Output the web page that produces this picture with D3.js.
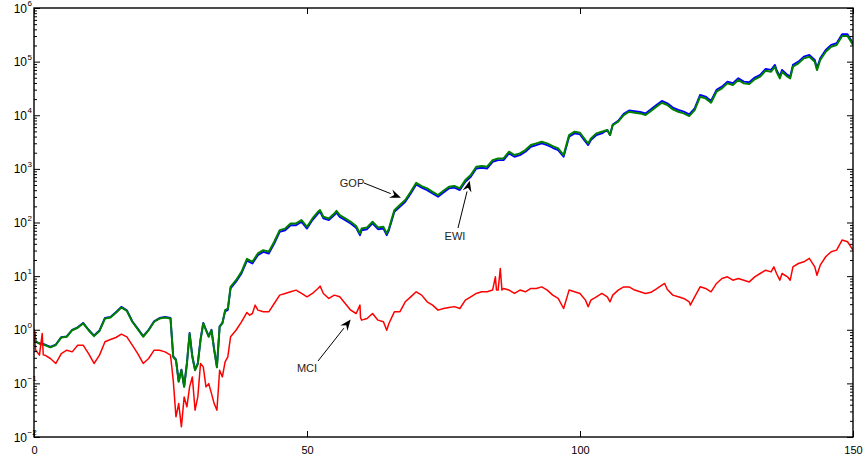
<!DOCTYPE html>
<html>
<head>
<meta charset="utf-8">
<script src="https://cdn.jsdelivr.net/npm/d3@7"></script>
<style>
  html, body { margin: 0; padding: 0; background: #fff; }
  svg { display: block; font-family: "Liberation Sans", Arial, Helvetica, sans-serif; }
</style>
</head>
<body>
<script>
// Wealth paths on a log scale: growth optimal portfolio, equal-weighted index, market-cap index.
// Each entry is [time, value].
const gopData = [
  [0,1.0],[0.3,0.6],[1,0.56],[2,0.53],[3,0.48],[4,0.53],[5,0.73],[6,0.75],[7,1.0],[8,1.11],[9,1.34],[10,1.0],
  [11,0.78],[12,0.97],[13,1.66],[14,1.73],[15,2.12],[16,2.67],[17,2.31],[18,1.44],[19,1.05],[20,0.76],
  [21,1.0],[22,1.44],[23,1.66],[24,1.73],[25,1.66],[25.5,0.32],[26,0.28],[26.5,0.11],[27,0.18],[27.5,0.088],
  [28,0.235],[28.5,0.87],[29,0.32],[29.5,0.18],[30,0.235],[30.5,0.66],[31,1.34],[31.5,1.0],[32,0.76],[32.5,1.0],
  [33,0.43],[33.5,0.205],[34,1.16],[34.5,1.34],[35,2.2],[35.5,2.35],[36,5.9],[37,7.9],[38,11.2],[39,19.5],
  [40,17.2],[41,24.6],[42,28.4],[43,26.4],[44,40.6],[45,67],[46,71.6],[47,89],[48,89],[49,103],[50,77],
  [51,111],[52,147],[52.4,158],[53,119],[54,111],[55,137],[55.4,153],[56,127],[57,111],[58,96],[59,80],[59.7,58],
  [60,71.6],[61,75],[62,96],[63,75],[64,77],[64.6,58],[65,71.6],[66,158],[67,196],[68,244],[69,348],[70,512],
  [71,445],[72,402],[73,348],[74,302],[75,364],[76,432],[77,446],[78,402],[79,575],[80,712],
  [81,1019],[82,1048],[83,1019],[84,1356],[85,1456],[86,1456],[87,1942],[88,1684],[89,1808],[90,2086],
  [91,2585],[92,2778],[93,2982],[94,2778],[95,2477],[96,2242],[97,1684],[98,3974],[99,4587],[100,4391],
  [101,3203],[101.5,2778],[102,3441],[103,4271],[104,4587],[105,5297],[105.5,4273],[106,6700],[107,7900],[108,10600],
  [109,12300],[110,11900],[111,11500],[112,10800],[113,12900],[114,15600],[115,18500],[116,16700],[117,13900],
  [118,12600],[119,11700],[120,10400],[121,13500],[122,23900],[123,22300],[124,18500],[125,29700],[126,34200],
  [127,42400],[128,39500],[129,49000],[130,42400],[131,41300],[132,50400],[133,56600],[134,73200],[135,70100],
  [135.7,86800],[136,70100],[136.6,52700],[137,70100],[138,56600],[138.5,52700],[139,86800],[140,100200],
  [141,124200],[142,133500],[143,107700],[143.4,75200],[144,115600],[145,165200],[146,205200],[147,220300],
  [148,324000],[149,324000],[150,220300]
];

const ewiData = [
  [0,1.0],[0.3,0.6],[1,0.55],[2,0.52],[3,0.47],[4,0.52],[5,0.72],[6,0.74],[7,0.98],[8,1.09],[9,1.31],[10,0.98],
  [11,0.76],[12,0.95],[13,1.62],[14,1.69],[15,2.07],[16,2.6],[17,2.25],[18,1.41],[19,1.03],[20,0.74],
  [21,0.98],[22,1.41],[23,1.62],[24,1.69],[25,1.62],[25.5,0.31],[26,0.27],[26.5,0.107],[27,0.176],[27.5,0.086],
  [28,0.23],[28.5,0.85],[29,0.31],[29.5,0.176],[30,0.23],[30.5,0.64],[31,1.31],[31.5,0.98],[32,0.74],[32.5,0.98],
  [33,0.42],[33.5,0.2],[34,1.13],[34.5,1.31],[35,2.32],[35.5,2.49],[36,6.3],[37,8.4],[38,12],[39,21],
  [40,18.5],[41,26.5],[42,30.5],[43,28.4],[44,43.7],[45,72],[46,77],[47,96],[48,96],[49,111],[50,83],
  [51,119],[52,158],[52.4,170],[53,128],[54,119],[55,147],[55.4,165],[56,137],[57,119],[58,103],[59,86],[59.7,62.5],
  [60,77],[61,81],[62,103],[63,81],[64,83],[64.6,62.5],[65,77],[66,170],[67,211],[68,262],[69,374],[70,551],
  [71,478],[72,432],[73,374],[74,325],[75,391],[76,464],[77,480],[78,432],[79,618],[80,766],
  [81,1096],[82,1127],[83,1096],[84,1458],[85,1566],[86,1566],[87,2088],[88,1811],[89,1944],[90,2243],
  [91,2780],[92,2987],[93,3207],[94,2987],[95,2663],[96,2411],[97,1811],[98,4273],[99,4932],[100,4722],
  [101,3444],[101.5,2987],[102,3700],[103,4592],[104,4932],[105,5297],[105.5,4273],[106,6566],[107,7575],[108,10090],
  [109,11640],[110,11150],[111,10830],[112,10090],[113,12000],[114,14500],[115,17130],[116,15500],[117,12850],
  [118,11640],[119,10840],[120,9660],[121,12500],[122,22170],[123,20650],[124,17130],[125,27500],[126,31700],
  [127,39300],[128,36600],[129,45400],[130,39300],[131,38200],[132,46700],[133,52400],[134,67800],[135,64900],
  [135.7,80400],[136,64900],[136.6,48800],[137,64900],[138,52400],[138.5,48800],[139,80400],[140,92800],
  [141,115000],[142,123600],[143,99700],[143.4,69600],[144,107000],[145,153000],[146,190000],[147,204000],
  [148,300000],[149,300000],[150,204000]
];

const mciData = [
  [0,1.0],[0.3,0.42],[1,0.336],[1.5,0.85],[1.7,0.34],[2,0.336],[3,0.291],[4,0.235],[5,0.36],[6,0.416],[7,0.387],
  [8,0.516],[9,0.516],[10,0.36],[11,0.235],[12,0.336],[13,0.596],[14,0.658],[15,0.717],[16,0.828],[17,0.738],
  [18,0.516],[19,0.36],[20,0.235],[21,0.291],[22,0.416],[23,0.416],[24,0.387],[25,0.336],[25.5,0.115],
  [26,0.0238],[26.5,0.042],[27,0.0155],[27.5,0.056],[28,0.0365],[28.5,0.086],[29,0.132],[29.5,0.0316],[30,0.056],
  [30.5,0.235],[31,0.203],[31.5,0.086],[32,0.099],[32.5,0.065],[33,0.042],[33.5,0.0316],[34,0.176],[34.5,0.132],
  [35,0.252],[35.5,0.313],[36,0.738],[37,0.98],[38,1.4],[39,2.1],[39.5,1.87],[40,2.01],[40.5,2.88],[41,2.32],
  [42,2.16],[43,2.16],[44,3.09],[45,4.42],[46,4.75],[47,5.1],[48,5.48],[49,4.75],[50,4.11],[51,4.75],[52,5.89],
  [52.4,6.5],[53,4.75],[54,3.83],[55,4.42],[56,4.11],[57,3.09],[58,2.32],[59,2.01],[59.7,2.88],[59.8,1.7],[60,1.51],
  [61,1.62],[62,2.01],[63,1.51],[64,1.41],[64.6,0.98],[65,1.31],[66,2.16],[67,2.16],[68,3.32],[69,4.11],[70,5.1],
  [71,4.42],[72,3.32],[73,2.88],[74,2.32],[75,2.49],[76,2.6],[77,2.7],[78,2.49],[79,3.57],[80,4.11],[81,4.75],
  [82,5.1],[83,5.1],[84,5.49],[84.5,9.7],[84.7,5.5],[85,5.49],[85.4,13.9],[85.7,5.49],[86,5.9],[87,5.49],[88,4.75],
  [89,5.49],[90,5.1],[91,5.9],[92,5.9],[93,6.3],[94,5.49],[95,4.42],[96,3.83],[97,2.49],[98,5.49],[99,5.1],
  [100,4.75],[101,3.57],[101.5,2.68],[102,3.57],[103,4.11],[104,4.75],[105,4.11],[105.5,3.32],[106,4.42],
  [107,5.49],[108,6.3],[109,6.3],[110,5.49],[111,5.1],[112,4.75],[113,5.0],[114,5.8],[115,6.79],[115.5,7.3],
  [116,5.64],[117,4.42],[118,4.11],[119,3.83],[120,3.32],[120.2,2.88],[121,4.11],[122,6.32],[123,5.89],[124,5.1],
  [125,7.3],[126,9.04],[127,9.7],[128,8.4],[129,9.04],[130,8.4],[131,7.8],[132,9.7],[133,11.2],[134,12.9],
  [135,12.0],[135.5,14.9],[136,11.2],[136.6,8.4],[137,11.2],[138,9.7],[138.5,8.4],[139,14.9],[140,17.2],
  [141,18.5],[142,21.4],[143,14.9],[143.4,10.4],[144,16],[145,23],[146,28.5],[147,30.5],[148,47],[149,43.7],[150,30.5]
];

const xTicks = [0, 50, 100, 150];
const yDecades = [-2, -1, 0, 1, 2, 3, 4, 5, 6];

// Annotation labels with arrows: label text, label anchor point, arrow tip [time, value]
const labels = [
  { text: "GOP", tx: 352, ty: 187, from: [364, 183], tip: [67.2, 290] },
  { text: "EWI", tx: 455, ty: 240, from: [458, 228], tip: [79.8, 600] },
  { text: "MCI", tx: 307, ty: 372, from: [318, 361], tip: [58.0, 1.55] }
];

const W = 863, H = 460;
const margin = { left: 34, right: 10, top: 8, bottom: 23 };

const x = d3.scaleLinear().domain([0, 150]).range([margin.left, W - margin.right]);
const y = d3.scaleLog().domain([1e-2, 1e6]).range([H - margin.bottom, margin.top]);

const svg = d3.select("body").append("svg").attr("width", W).attr("height", H);

svg.append("defs").append("clipPath").attr("id", "plotclip")
  .append("rect")
  .attr("x", margin.left).attr("y", margin.top)
  .attr("width", x(150) - x(0)).attr("height", y(1e-2) - y(1e6));

// series
const line = d3.line().x(d => x(d[0])).y(d => y(d[1]));
const plot = svg.append("g").attr("clip-path", "url(#plotclip)");
plot.append("path").datum(gopData).attr("d", line)
  .attr("fill", "none").attr("stroke", "#0000ff").attr("stroke-width", 1.9).attr("stroke-linejoin", "round");
plot.append("path").datum(ewiData).attr("d", line)
  .attr("fill", "none").attr("stroke", "#008000").attr("stroke-width", 2.0).attr("stroke-linejoin", "round");
plot.append("path").datum(mciData).attr("d", line)
  .attr("fill", "none").attr("stroke", "#ff0000").attr("stroke-width", 1.5).attr("stroke-linejoin", "round");

// minor tick positions for the log axis
const minorVals = [];
yDecades.slice(0, -1).forEach(e => {
  for (let k = 2; k <= 9; k++) minorVals.push(k * Math.pow(10, e));
});
const majorVals = yDecades.map(e => Math.pow(10, e));

function styleAxis(g) {
  g.selectAll(".domain").remove();
  g.selectAll("line").attr("stroke", "#000").attr("stroke-width", 1);
  g.selectAll("text").remove();
}

// left & right axes (ticks pointing inward)
svg.append("g").attr("transform", `translate(${x(0)},0)`)
  .call(d3.axisLeft(y).tickValues(majorVals).tickSize(-6)).call(styleAxis);
svg.append("g").attr("transform", `translate(${x(0)},0)`)
  .call(d3.axisLeft(y).tickValues(minorVals).tickSize(-3)).call(styleAxis);
svg.append("g").attr("transform", `translate(${x(150)},0)`)
  .call(d3.axisRight(y).tickValues(majorVals).tickSize(-6)).call(styleAxis);
svg.append("g").attr("transform", `translate(${x(150)},0)`)
  .call(d3.axisRight(y).tickValues(minorVals).tickSize(-3)).call(styleAxis);

// bottom & top axes
const bottom = svg.append("g").attr("transform", `translate(0,${y(1e-2)})`)
  .call(d3.axisBottom(x).tickValues(xTicks).tickSize(-6).tickFormat(d3.format("d")));
bottom.select(".domain").remove();
bottom.selectAll("line").attr("stroke", "#000");
bottom.selectAll("text").attr("y", 9).attr("dy", "0.71em")
  .attr("font-size", 11).attr("fill", "#000")
  .attr("font-family", "'Liberation Sans', Arial, sans-serif");
svg.append("g").attr("transform", `translate(0,${y(1e6)})`)
  .call(d3.axisTop(x).tickValues(xTicks).tickSize(-6)).call(styleAxis);

// box
svg.append("rect")
  .attr("x", x(0)).attr("y", y(1e6))
  .attr("width", x(150) - x(0)).attr("height", y(1e-2) - y(1e6))
  .attr("fill", "none").attr("stroke", "#000").attr("stroke-width", 1.4);

// y tick labels as 10^n
const yl = svg.append("g").attr("fill", "#000");
yDecades.forEach(e => {
  yl.append("text")
    .attr("x", 27).attr("y", y(Math.pow(10, e)) + 4.5)
    .attr("font-size", 12)
    .attr("text-anchor", "end")
    .text("10");
  yl.append("text")
    .attr("x", 27.5).attr("y", y(Math.pow(10, e)) - 2)
    .attr("font-size", 8)
    .attr("text-anchor", "start")
    .text(String(e).replace("-", "\u2212"));
});

// annotations
const ann = svg.append("g");
labels.forEach(l => {
  ann.append("text").attr("x", l.tx).attr("y", l.ty)
    .attr("text-anchor", "middle").attr("font-size", 11).attr("fill", "#222").text(l.text);
  const x1 = l.from[0], y1 = l.from[1];
  const x2 = x(l.tip[0]), y2 = y(l.tip[1]);
  const ang = Math.atan2(y2 - y1, x2 - x1);
  const hl = 11, hw = 4.5;
  const bx = x2 - hl * Math.cos(ang), by = y2 - hl * Math.sin(ang);
  ann.append("line").attr("x1", x1).attr("y1", y1).attr("x2", bx).attr("y2", by)
    .attr("stroke", "#000").attr("stroke-width", 1);
  const px = -Math.sin(ang), py = Math.cos(ang);
  ann.append("path")
    .attr("d", `M${x2},${y2}L${bx + px * hw},${by + py * hw}L${bx + 0.35 * hl * Math.cos(ang)},${by + 0.35 * hl * Math.sin(ang)}L${bx - px * hw},${by - py * hw}Z`)
    .attr("fill", "#000");
});
</script>
</body>
</html>
